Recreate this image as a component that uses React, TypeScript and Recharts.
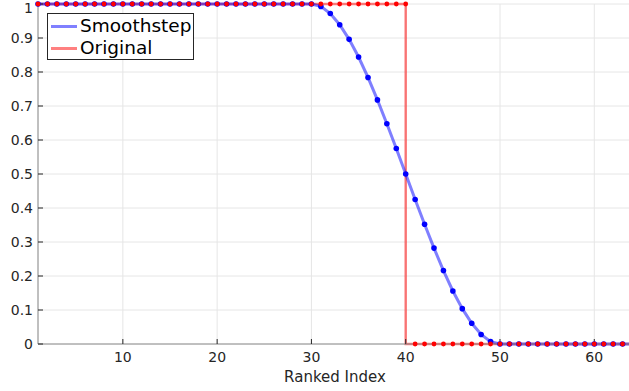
import { LineChart, Line, XAxis, YAxis, CartesianGrid } from 'recharts';

// ranked index 1..64
const rankIdx = [
  1, 2, 3, 4, 5, 6, 7, 8, 9, 10, 11, 12, 13, 14, 15, 16,
  17, 18, 19, 20, 21, 22, 23, 24, 25, 26, 27, 28, 29, 30, 31, 32,
  33, 34, 35, 36, 37, 38, 39, 40, 41, 42, 43, 44, 45, 46, 47, 48,
  49, 50, 51, 52, 53, 54, 55, 56, 57, 58, 59, 60, 61, 62, 63, 64,
];

const smoothstep = [
  1, 1, 1, 1, 1, 1, 1, 1, 1, 1, 1, 1, 1, 1, 1, 1,
  1, 1, 1, 1, 1, 1, 1, 1, 1, 1, 1, 1, 1, 1, 0.993, 0.972,
  0.939, 0.896, 0.844, 0.784, 0.718, 0.648, 0.575, 0.5, 0.425, 0.352, 0.282, 0.216, 0.156, 0.104, 0.061, 0.028,
  0.007, 0, 0, 0, 0, 0, 0, 0, 0, 0, 0, 0, 0, 0, 0, 0,
];

const original = [
  1, 1, 1, 1, 1, 1, 1, 1, 1, 1, 1, 1, 1, 1, 1, 1,
  1, 1, 1, 1, 1, 1, 1, 1, 1, 1, 1, 1, 1, 1, 1, 1,
  1, 1, 1, 1, 1, 1, 1, 1, 0, 0, 0, 0, 0, 0, 0, 0,
  0, 0, 0, 0, 0, 0, 0, 0, 0, 0, 0, 0, 0, 0, 0, 0,
];

const xTicks = [10, 20, 30, 40, 50, 60];
const yTicks = [0, 0.1, 0.2, 0.3, 0.4, 0.5, 0.6, 0.7, 0.8, 0.9, 1];
const yTickLabels = ['0', '0.1', '0.2', '0.3', '0.4', '0.5', '0.6', '0.7', '0.8', '0.9', '1'];

const FONT = '"DejaVu Sans", sans-serif';
const TEXT = '#262626';

const data = rankIdx.map((x, i) => ({ x, smooth: smoothstep[i], orig: original[i] }));

function LegendBox() {
  const items = [
    { name: 'Smoothstep', color: '#8080ff' },
    { name: 'Original', color: '#ff8080' },
  ];
  return (
    <div
      style={{
        position: 'absolute',
        left: 47,
        top: 13,
        border: '1px solid #262626',
        background: '#fff',
        width: 147,
        height: 47,
        boxSizing: 'border-box',
        paddingTop: 1,
        fontFamily: FONT,
        fontSize: 18.5,
        color: '#000',
        lineHeight: '22px',
      }}
    >
      {items.map(it => (
        <div key={it.name} style={{ display: 'flex', alignItems: 'center' }}>
          <div style={{ width: 26, height: 3, background: it.color, marginLeft: 3, marginRight: 3 }} />
          <span>{it.name}</span>
        </div>
      ))}
    </div>
  );
}

export default function App() {
  return (
    <div style={{ position: 'absolute', left: 0, top: 0, width: 629, height: 391, overflow: 'hidden', background: '#fff' }}>
      <LineChart width={640} height={391} data={data} margin={{ top: 4, right: 8, bottom: 0, left: 0 }}>
        <CartesianGrid stroke="#e6e6e6" strokeWidth={1} />
        <XAxis
          dataKey="x"
          type="number"
          domain={[1, 64]}
          ticks={xTicks}
          height={47}
          tickSize={-5}
          tickMargin={13}
          stroke="#8c8c8c"
          tickLine={{ stroke: '#262626' }}
          tick={{ fill: TEXT, fontSize: 14, fontFamily: FONT }}
          label={{ value: 'Ranked Index', position: 'insideBottom', offset: 9, fill: TEXT, fontSize: 15, fontFamily: FONT }}
        />
        <YAxis
          type="number"
          domain={[0, 1]}
          ticks={yTicks}
          width={38}
          tickSize={-5}
          tickMargin={10}
          stroke="#8c8c8c"
          tickLine={{ stroke: '#262626' }}
          tickFormatter={(v) => yTickLabels[yTicks.indexOf(v)] ?? String(v)}
          tick={{ fill: TEXT, fontSize: 14, fontFamily: FONT }}
        />
        <Line
          type="stepBefore"
          dataKey="orig"
          stroke="#ff0000"
          strokeOpacity={0.5}
          strokeWidth={2.5}
          dot={false}
          activeDot={false}
          isAnimationActive={false}
        />
        <Line
          type="linear"
          dataKey="smooth"
          stroke="#0000ff"
          strokeOpacity={0.5}
          strokeWidth={3}
          dot={{ r: 2.8, fill: '#0000ff', stroke: 'none' }}
          activeDot={false}
          isAnimationActive={false}
        />
        <Line
          type="stepBefore"
          dataKey="orig"
          stroke="none"
          strokeWidth={0}
          dot={{ r: 2.4, fill: '#ff0000', stroke: 'none' }}
          activeDot={false}
          isAnimationActive={false}
        />
      </LineChart>
      <LegendBox />
    </div>
  );
}
